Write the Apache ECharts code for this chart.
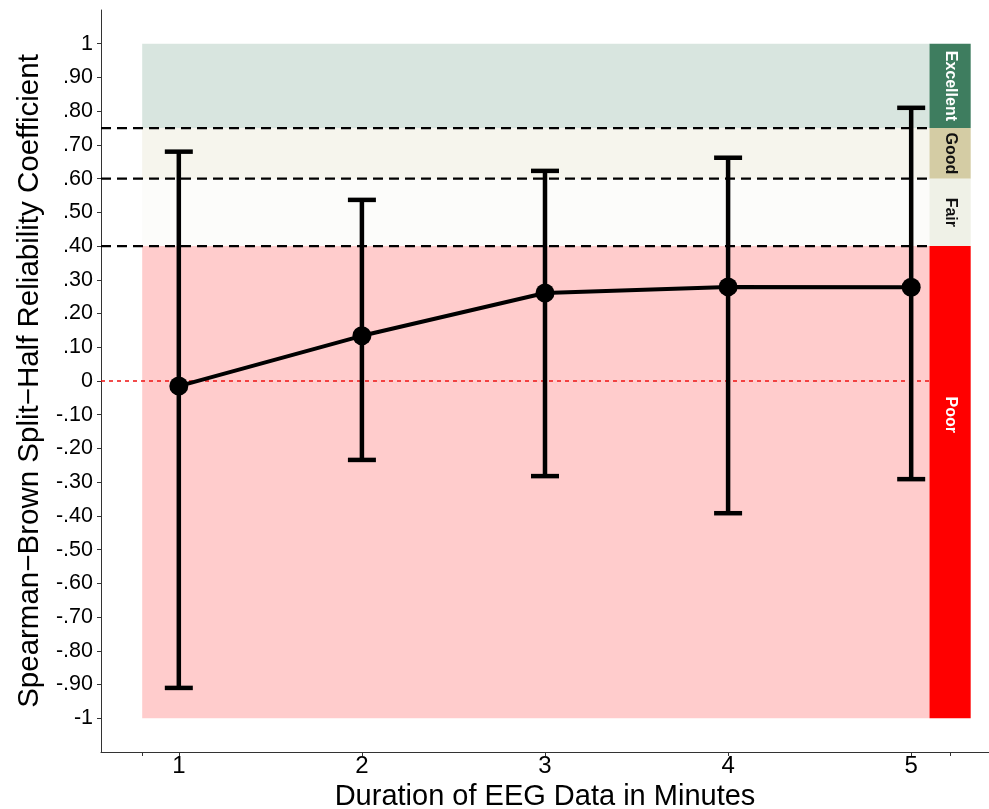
<!DOCTYPE html>
<html>
<head>
<meta charset="utf-8">
<script src="https://cdn.jsdelivr.net/npm/echarts@6/dist/echarts.min.js"></script>
<style>html,body{margin:0;padding:0;background:#fff}#c{width:989px;height:809px}</style>
</head>
<body>
<div id="c"></div>
<script>
// ---- data ----
const minutes = [1, 2, 3, 4, 5];
const meanR = [-0.015, 0.134, 0.261, 0.279, 0.278];
const ciLower = [-0.91, -0.234, -0.282, -0.392, -0.291];
const ciUpper = [0.68, 0.537, 0.623, 0.662, 0.81];

const bandNames = ['Excellent', 'Good', 'Fair', 'Poor'];
const bandLower = [0.75, 0.6, 0.4, -1];
const bandUpper = [1, 0.75, 0.6, 0.4];
const bandLabelY = [0.875, 0.675, 0.5, -0.1];
const thresholds = [0.75, 0.6, 0.4];

const yTicks = [-1, -0.9, -0.8, -0.7, -0.6, -0.5, -0.4, -0.3, -0.2, -0.1, 0, 0.1, 0.2, 0.3, 0.4, 0.5, 0.6, 0.7, 0.8, 0.9, 1];
const xLabelTicks = [1, 2, 3, 4, 5];
const xTickMarks = [0.8, 1, 2, 3, 4, 5, 5.2125];

// ---- styles ----
const stripColors = ['#3e7d5f', '#d4cca4', '#eff1e7', '#ff0000'];
const stripTextColors = ['#ffffff', '#111111', '#111111', '#ffffff'];
const X_MIN = 0.575, X_MAX = 5.425;
const BAND_X0 = 0.8, BAND_X1 = 5.1, STRIP_X1 = 5.325;
const FONT = 'Liberation Sans, Arial, Helvetica, sans-serif';

function fmtY(v) {
  const r = Math.round(v * 100) / 100;
  if (r === 0) return '0';
  if (r === 1) return '1';
  if (r === -1) return '-1';
  const s = Math.abs(r).toFixed(2).replace(/^0/, '');
  return (r < 0 ? '-' : '') + s;
}

const chart = echarts.init(document.getElementById('c'), null, { renderer: 'canvas' });

const bandData = bandNames.map((n, i) => [bandLower[i], bandUpper[i], i]);

const option = {
  animation: false,
  backgroundColor: '#ffffff',
  grid: { left: 101, right: 0, top: 10, bottom: 57, containLabel: false, outerBoundsMode: 'none' },
  xAxis: {
    type: 'value', min: X_MIN, max: X_MAX,
    name: 'Duration of EEG Data in Minutes', nameLocation: 'middle', nameGap: 27,
    nameTextStyle: { fontFamily: FONT, fontSize: 29, color: '#000' },
    axisLine: { show: true, onZero: false, lineStyle: { color: '#333', width: 1 } },
    axisTick: { show: true, length: 4, customValues: xTickMarks, lineStyle: { color: '#333' } },
    axisLabel: { customValues: xLabelTicks, fontFamily: FONT, fontSize: 24, color: '#000', margin: 2 },
    splitLine: { show: false }
  },
  yAxis: {
    type: 'value', min: -1.1, max: 1.1,
    name: 'Spearman\u2212Brown Split\u2212Half Reliability Coefficient', nameLocation: 'middle', nameGap: 52, nameRotate: 90,
    nameTextStyle: { fontFamily: FONT, fontSize: 29.5, color: '#000' },
    axisLine: { show: true, onZero: false, lineStyle: { color: '#333', width: 1 } },
    axisTick: { show: true, length: 4, customValues: yTicks, lineStyle: { color: '#333' } },
    axisLabel: { customValues: yTicks, formatter: fmtY, fontFamily: FONT, fontSize: 21.5, color: '#000', margin: 8 },
    splitLine: { show: false }
  },
  series: [
    {
      type: 'custom', name: 'bands', z: 1, silent: true,
      data: bandData,
      renderItem: function (params, api) {
        const lo = api.value(0), hi = api.value(1), i = api.value(2);
        const p0 = api.coord([BAND_X0, hi]);
        const p1 = api.coord([BAND_X1, lo]);
        const s1 = api.coord([STRIP_X1, lo]);
        const c = api.coord([(BAND_X1 + STRIP_X1) / 2, bandLabelY[i]]);
        return {
          type: 'group',
          children: [
            { type: 'rect', shape: { x: p0[0], y: p0[1], width: p1[0] - p0[0], height: p1[1] - p0[1] },
              style: { fill: stripColors[i], opacity: 0.2 } },
            { type: 'rect', shape: { x: p1[0], y: p0[1], width: s1[0] - p1[0], height: p1[1] - p0[1] },
              style: { fill: stripColors[i] } },
            { type: 'text', x: c[0], y: c[1], rotation: -Math.PI / 2,
              style: { text: bandNames[i], fill: stripTextColors[i], font: 'bold 16px ' + FONT, align: 'center', verticalAlign: 'middle' } }
          ]
        };
      }
    },
    {
      type: 'custom', name: 'thresholds', z: 2, silent: true,
      data: thresholds.map(t => [t]),
      renderItem: function (params, api) {
        const t = api.value(0);
        const a = api.coord([X_MIN, t]), b = api.coord([BAND_X1, t]);
        return { type: 'line', shape: { x1: a[0], y1: a[1], x2: b[0], y2: b[1] },
          style: { stroke: '#000', lineWidth: 2.2, lineDash: [10, 6] } };
      }
    },
    {
      type: 'custom', name: 'zero', z: 2, silent: true,
      data: [[0]],
      renderItem: function (params, api) {
        const a = api.coord([X_MIN, 0]), b = api.coord([BAND_X1, 0]);
        return { type: 'line', shape: { x1: a[0], y1: a[1], x2: b[0], y2: b[1] },
          style: { stroke: '#ee1111', lineWidth: 1.3, lineDash: [4, 4] } };
      }
    },
    {
      type: 'custom', name: 'ci', z: 3, silent: true,
      data: minutes.map((m, i) => [m, ciLower[i], ciUpper[i]]),
      renderItem: function (params, api) {
        const x = api.value(0), lo = api.value(1), hi = api.value(2);
        const pl = api.coord([x, lo]), ph = api.coord([x, hi]);
        const hw = 14;
        const st = { stroke: '#000', lineWidth: 4.5 };
        return {
          type: 'group',
          children: [
            { type: 'line', shape: { x1: pl[0], y1: pl[1], x2: ph[0], y2: ph[1] }, style: st },
            { type: 'line', shape: { x1: ph[0] - hw, y1: ph[1], x2: ph[0] + hw, y2: ph[1] }, style: st },
            { type: 'line', shape: { x1: pl[0] - hw, y1: pl[1], x2: pl[0] + hw, y2: pl[1] }, style: st }
          ]
        };
      }
    },
    {
      type: 'line', name: 'mean', z: 4, silent: true,
      data: minutes.map((m, i) => [m, meanR[i]]),
      symbol: 'circle', symbolSize: 19, showSymbol: true,
      lineStyle: { color: '#000', width: 4 },
      itemStyle: { color: '#000', borderWidth: 0 }
    }
  ]
};
chart.setOption(option);
</script>
</body>
</html>
